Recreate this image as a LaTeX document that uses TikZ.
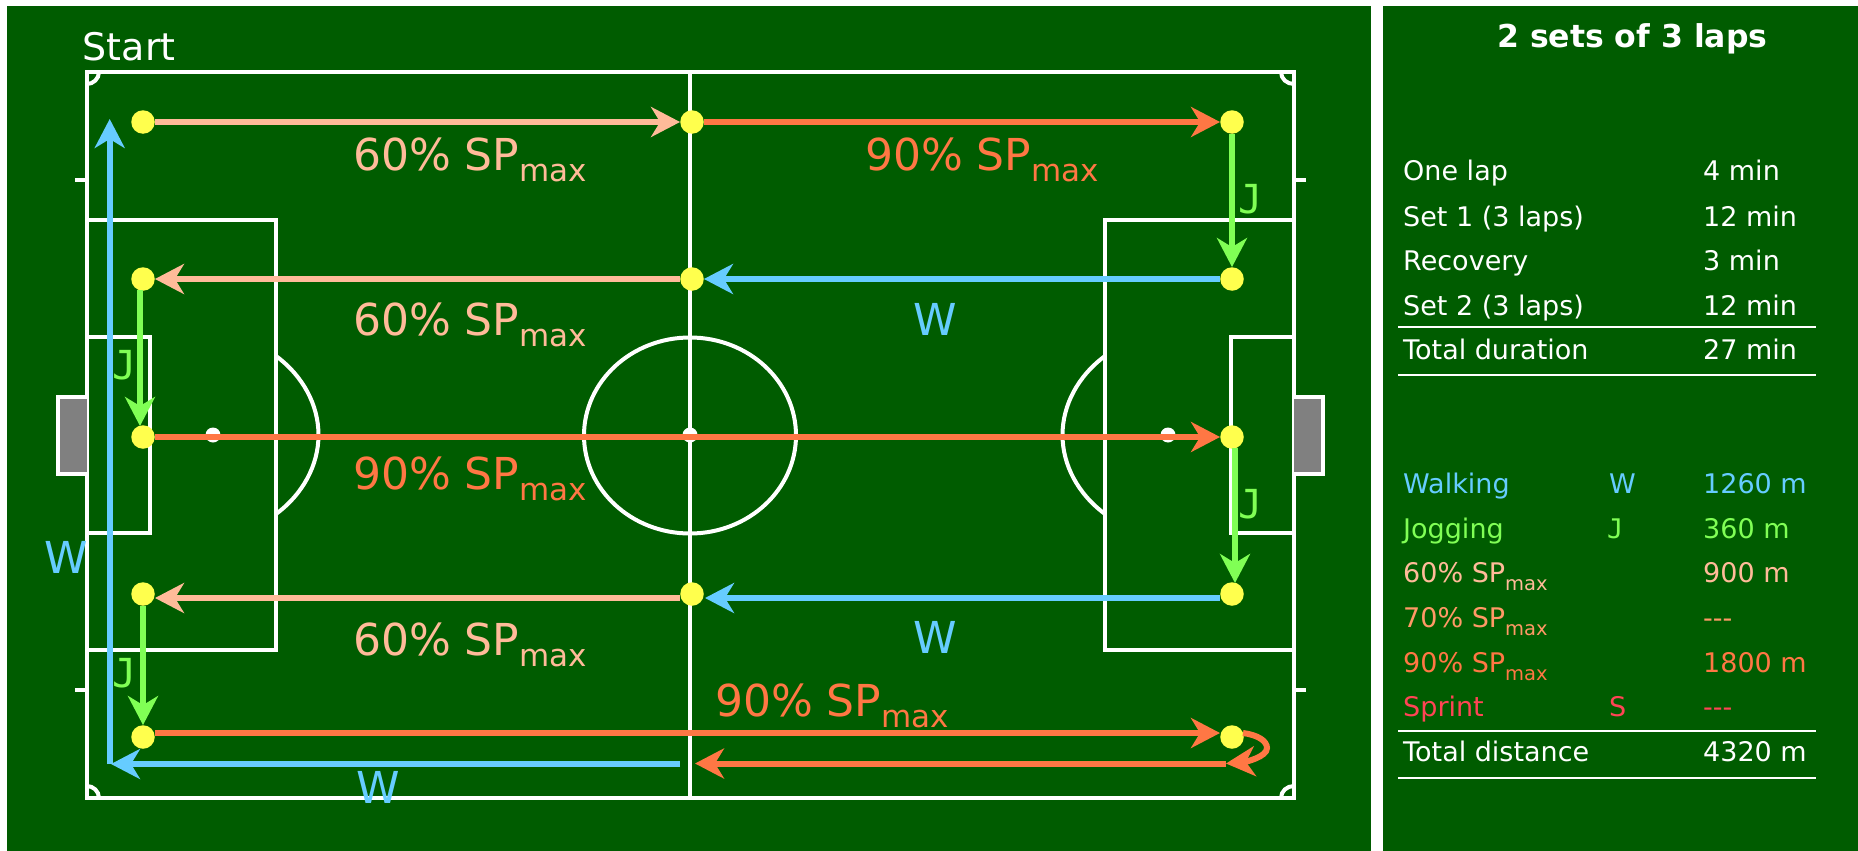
\documentclass[tikz,border=0pt]{standalone}
\usepackage{fontspec}
\setmainfont{DejaVu Sans}
\newfontfamily\jfont{DejaVu Sans Mono}
\usetikzlibrary{arrows.meta,shapes.geometric}
\definecolor{pitch}{HTML}{005C00}
\definecolor{walkc}{HTML}{66CCFF}
\definecolor{jogc}{HTML}{80FF55}
\definecolor{sixty}{HTML}{FFBB99}
\definecolor{seventy}{HTML}{FF9966}
\definecolor{ninety}{HTML}{FF7744}
\definecolor{sprintc}{HTML}{FF4455}
\definecolor{dotc}{HTML}{FFFF4D}
\newcommand{\bigsp}{SP\raisebox{-11pt}{\fontsize{31}{31}\selectfont max}}
\newcommand{\smallsp}{SP\raisebox{-8pt}{\fontsize{19.5}{19.5}\selectfont max}}
\tikzset{
 panel/.style={fill=pitch,draw=none},
 fieldline/.style={draw=white,line width=4pt},
 waypoint/.style={circle,fill=dotc,draw=none,minimum size=23.5pt,inner sep=0pt},
 run/.style={line width=6pt,-{Stealth[length=29pt,width=30pt,inset=9pt]}},
 biglabel/.style={anchor=base west,inner sep=0pt,font=\fontsize{44}{44}\selectfont},
 joglabel/.style={anchor=base,inner sep=0pt,text=jogc,font=\jfont\fontsize{40}{40}\selectfont},
 tabletext/.style={anchor=base west,inner sep=0pt,font=\fontsize{27}{27}\selectfont},
 rule/.style={draw=white,line width=2pt},
}
\begin{document}
\begin{tikzpicture}[x=1pt,y=-1pt]
\useasboundingbox (0,0) rectangle (1858,851);
\fill[white] (0,0) rectangle (1858,851);
\fill[panel] (7,6) rectangle (1371,851);
\fill[panel] (1383,6) rectangle (1858,851);
% field
\draw[fieldline] (87,72) rectangle (1294,798);
\draw[fieldline] (690,72) -- (690,798);
\draw[fieldline] (87,220) rectangle (276,650);
\draw[fieldline] (1294,220) rectangle (1104.5,650);
\draw[fieldline] (87,337) rectangle (150,533);
\draw[fieldline] (1294,337) rectangle (1231,533);
\draw[fieldline,fill=gray] (87,397) -- (58,397) -- (58,474) -- (87,474);
\draw[fieldline,fill=gray] (1294,397) -- (1323,397) -- (1323,474) -- (1294,474);
\draw[fieldline] (690,435.5) ellipse [x radius=106,y radius=98];
\draw[fieldline] (276,356) .. controls (303,376) and (318.5,405) .. (318.5,435) .. controls (318.5,465) and (303,494) .. (276,514);
\draw[fieldline] (1105,356) .. controls (1078,376) and (1062.5,405) .. (1062.5,435) .. controls (1062.5,465) and (1078,494) .. (1105,514);
\fill[white] (213,435) ellipse [x radius=7.5,y radius=7.5];
\fill[white] (690,435) ellipse [x radius=7.5,y radius=7.5];
\fill[white] (1168,435) ellipse [x radius=7.5,y radius=7.5];
\draw[fieldline] (99,72) .. controls (99,79) and (93,84) .. (87,84);
\draw[fieldline] (99,798) .. controls (99,791) and (93,786) .. (87,786);
\draw[fieldline] (1281,72) .. controls (1281,79) and (1287,84) .. (1294,84);
\draw[fieldline] (1281,798) .. controls (1281,791) and (1287,786) .. (1294,786);
\draw[fieldline] (75,180) -- (87,180);
\draw[fieldline] (75,690) -- (87,690);
\draw[fieldline] (1294,180) -- (1306,180);
\draw[fieldline] (1294,690) -- (1306,690);
% way points
\node[waypoint] (a1) at (143,122) {};
\node[waypoint] (a2) at (692,122) {};
\node[waypoint] (a3) at (1232,122) {};
\node[waypoint] (b1) at (143,279) {};
\node[waypoint] (b2) at (692,279) {};
\node[waypoint] (b3) at (1232,279) {};
\node[waypoint] (c1) at (143,437) {};
\node[waypoint] (c3) at (1232,437) {};
\node[waypoint] (d1) at (143,594) {};
\node[waypoint] (d2) at (692,594) {};
\node[waypoint] (d3) at (1232,594) {};
\node[waypoint] (e1) at (143,737) {};
\node[waypoint] (e3) at (1232,737) {};
% free ends
\coordinate (jl1s) at (140,290);
\coordinate (jl1e) at (140,426);
\coordinate (jr1s) at (1235,448);
\coordinate (jr1e) at (1235,583);
\coordinate (wd3) at (1220,598);
\coordinate (wd2) at (705,598);
\coordinate (sd2) at (680,598);
\coordinate (sd1) at (155,598);
\coordinate (ne1) at (155,733);
\coordinate (ne3) at (1220,733);
\coordinate (cs) at (1243,733);
\coordinate (ct) at (1226,763.5);
\coordinate (rt) at (695,763.5);
\coordinate (ws) at (680,764);
\coordinate (wc) at (109.7,764);
\coordinate (wt) at (109.7,119);
\coordinate (wb) at (111,764);
% runs
\draw[run,sixty] (a1) -- (a2);
\draw[run,ninety] (a2) -- (a3);
\draw[run,jogc] (a3) -- (b3);
\draw[run,walkc] (b3) -- (b2);
\draw[run,sixty] (b2) -- (b1);
\draw[run,jogc] (jl1s) -- (jl1e);
\draw[run,ninety] (c1) -- (c3);
\draw[run,jogc] (jr1s) -- (jr1e);
\draw[run,walkc] (wd3) -- (wd2);
\draw[run,sixty] (sd2) -- (sd1);
\draw[run,jogc] (d1) -- (e1);
\draw[run,ninety] (ne1) -- (ne3);
\draw[run,ninety] (cs) .. controls (1258,735) and (1267,741) .. (1267,748) .. controls (1267,757) and (1245,762) .. (ct);
\draw[run,ninety] (ct) -- (rt);
\draw[run,walkc] (wc) -- (wt);
\draw[run,walkc] (ws) -- (wb);
% labels on the field
\node[biglabel,text=white,font=\fontsize{38}{38}\selectfont] (start) at (82.5,60) {Start};
\node[biglabel,text=sixty] (l1) at (353,170) {60\% \bigsp};
\node[biglabel,text=ninety] (l2) at (865,170) {90\% \bigsp};
\node[biglabel,text=sixty] (l3) at (353,335) {60\% \bigsp};
\node[biglabel,text=ninety] (l4) at (353,489) {90\% \bigsp};
\node[biglabel,text=sixty] (l5) at (353,655) {60\% \bigsp};
\node[biglabel,text=ninety] (l6) at (715,716) {90\% \bigsp};
\node[biglabel,anchor=base,text=walkc] (w1) at (935,335) {W};
\node[biglabel,anchor=base,text=walkc] (w2) at (935,653) {W};
\node[biglabel,anchor=base,text=walkc] (w3) at (66,573) {W};
\node[biglabel,anchor=base,text=walkc] (w4) at (378,803) {W};
\node[joglabel] (j1) at (125,379) {J};
\node[joglabel] (j2) at (125,687) {J};
\node[joglabel] (j3) at (1251,213) {J};
\node[joglabel] (j4) at (1251,518) {J};
% table
\node[anchor=base west,inner sep=0pt,text=white,font=\bfseries\fontsize{31.5}{31.5}\selectfont] (title) at (1497,48) {2 sets of 3 laps};
\node[tabletext,text=white] (t1) at (1403,180) {One lap};
\node[tabletext,text=white] (v1) at (1703,180) {4 min};
\node[tabletext,text=white] (t2) at (1403,226) {Set 1 (3 laps)};
\node[tabletext,text=white] (v2) at (1703,226) {12 min};
\node[tabletext,text=white] (t3) at (1403,270) {Recovery};
\node[tabletext,text=white] (v3) at (1703,270) {3 min};
\node[tabletext,text=white] (t4) at (1403,315) {Set 2 (3 laps)};
\node[tabletext,text=white] (v4) at (1703,315) {12 min};
\coordinate (r1a) at (1398,327); \coordinate (r1b) at (1816,327);
\draw[rule] (r1a) -- (r1b);
\node[tabletext,text=white] (t5) at (1403,359) {Total duration};
\node[tabletext,text=white] (v5) at (1703,359) {27 min};
\coordinate (r2a) at (1398,375); \coordinate (r2b) at (1816,375);
\draw[rule] (r2a) -- (r2b);
\node[tabletext,text=walkc] (s1) at (1403,493) {Walking};
\node[tabletext,text=walkc] (k1) at (1609,493) {W};
\node[tabletext,text=walkc] (u1) at (1703,493) {1260 m};
\node[tabletext,text=jogc] (s2) at (1403,538) {Jogging};
\node[tabletext,text=jogc,font=\jfont\fontsize{27}{27}\selectfont] (k2) at (1607,538) {J};
\node[tabletext,text=jogc] (u2) at (1703,538) {360 m};
\node[tabletext,text=sixty] (s3) at (1403,582) {60\% \smallsp};
\node[tabletext,text=sixty] (u3) at (1703,582) {900 m};
\node[tabletext,text=seventy] (s4) at (1403,627) {70\% \smallsp};
\node[tabletext,text=seventy] (u4) at (1703,627) {-{}-{}-};
\node[tabletext,text=ninety] (s5) at (1403,672) {90\% \smallsp};
\node[tabletext,text=ninety] (u5) at (1703,672) {1800 m};
\node[tabletext,text=sprintc] (s6) at (1403,716) {Sprint};
\node[tabletext,text=sprintc] (k6) at (1609,716) {S};
\node[tabletext,text=sprintc] (u6) at (1703,716) {-{}-{}-};
\coordinate (r3a) at (1398,731); \coordinate (r3b) at (1816,731);
\draw[rule] (r3a) -- (r3b);
\node[tabletext,text=white] (s7) at (1403,761) {Total distance};
\node[tabletext,text=white] (u7) at (1703,761) {4320 m};
\coordinate (r4a) at (1398,778); \coordinate (r4b) at (1816,778);
\draw[rule] (r4a) -- (r4b);
\end{tikzpicture}
\end{document}
